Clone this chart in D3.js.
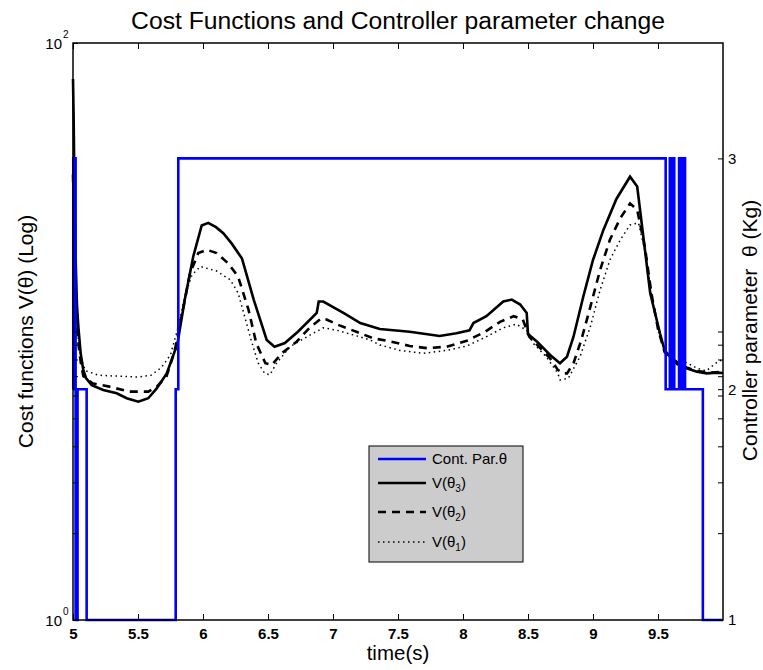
<!DOCTYPE html>
<html><head><meta charset="utf-8">
<script src="https://cdn.jsdelivr.net/npm/d3@7"></script>
<style>body{margin:0;background:#fff}svg{display:block}text{font-family:"Liberation Sans",Arial,Helvetica,sans-serif}</style>
</head><body><svg id="c" width="763" height="670"></svg>
<script>
// ---- data ----
const timeV3 = [5.0,5.005,5.01,5.02,5.03,5.041,5.059,5.079,5.1,5.144,5.233,5.336,5.413,5.502,5.579,5.644,5.721,5.785,5.80,5.86,5.925,5.99,6.04,6.1,6.156,6.22,6.30,6.39,6.49,6.55,6.63,6.73,6.875,6.89,6.925,7.08,7.21,7.36,7.59,7.82,7.95,8.05,8.08,8.18,8.31,8.375,8.44,8.49,8.50,8.57,8.67,8.746,8.80,8.85,8.925,9.00,9.08,9.18,9.285,9.34,9.39,9.44,9.515,9.55,9.6,9.65,9.72,9.8,9.875,9.95,10.0];
const valV3 = [75,55,35,18,12.5,10.4,8.4,7.36,6.9,6.52,6.27,6.11,5.87,5.71,5.87,6.35,7.16,8.6,8.9,12.9,18.2,23.3,23.8,23.0,21.9,20.2,17.9,12.9,9.35,8.86,9.12,9.98,11.6,12.7,12.7,11.6,10.7,10.2,9.98,9.65,9.86,10.1,10.7,11.3,12.7,12.9,12.4,11.6,9.8,9.22,8.29,7.76,8.18,9.59,13.2,17.7,22.5,28.8,34.4,31.8,20.8,13.6,9.86,8.63,8.1,7.8,7.46,7.25,7.16,7.2,7.18];
const timeV2 = [5.0,5.01,5.02,5.03,5.045,5.06,5.08,5.15,5.28,5.43,5.58,5.645,5.72,5.78,5.80,5.90,5.964,6.03,6.105,6.195,6.27,6.35,6.41,6.48,6.53,6.605,6.72,6.82,6.91,6.95,7.05,7.18,7.31,7.45,7.59,7.73,7.875,8.03,8.17,8.285,8.39,8.46,8.51,8.57,8.67,8.73,8.77,8.80,8.85,8.91,8.98,9.054,9.13,9.21,9.285,9.34,9.40,9.45,9.50,9.55,9.6,9.65,9.72,9.8,9.9,10.0];
const valV2 = [35,22,14,10.5,8.8,7.8,7.0,6.61,6.44,6.19,6.19,6.44,7.0,8.5,9.35,15.9,18.7,19.2,18.7,17.2,15.5,11.9,9.1,7.76,7.65,8.40,9.22,10.3,11.1,11.0,10.5,9.98,9.47,9.22,8.91,8.75,8.86,9.29,9.98,10.8,11.3,11.0,9.59,8.98,8.07,7.36,7.16,7.16,7.76,9.35,12.2,16.3,20.8,24.7,27.8,26.4,19.5,13.5,10.2,8.5,8.0,7.7,7.5,7.3,7.2,7.25];
const timeV1 = [5.0,5.01,5.02,5.03,5.045,5.06,5.08,5.1,5.2,5.35,5.5,5.6,5.68,5.75,5.81,5.86,5.915,5.98,6.105,6.21,6.27,6.32,6.37,6.425,6.475,6.515,6.565,6.67,6.80,6.925,7.03,7.16,7.285,7.36,7.515,7.695,7.875,8.03,8.18,8.31,8.41,8.49,8.54,8.64,8.73,8.746,8.81,8.90,8.98,9.054,9.13,9.21,9.285,9.35,9.40,9.45,9.50,9.55,9.6,9.65,9.72,9.8,9.87,9.95,10.0];
const valV1 = [28,20,14,10.5,9.0,8.2,7.6,7.3,7.05,7.0,6.95,7.05,7.5,8.3,10.4,13.2,15.7,16.8,16.2,15.1,13.6,11.3,9.35,7.76,7.16,7.08,7.76,8.86,9.59,10.3,10.1,9.72,9.35,8.98,8.6,8.4,8.6,8.91,9.59,10.3,10.6,10.1,9.1,8.18,7.16,6.79,6.88,8.18,10.4,13.9,17.7,20.8,23.4,23.8,19.0,13.5,10.2,8.6,8.0,7.9,7.8,7.46,7.3,7.8,8.0];
const thetaTime = [5.0,5.002,5.02,5.035,5.105,5.79,5.81,9.559,9.591,9.609,9.611,9.625,9.662,9.680,9.683,9.693,9.696,9.708,9.845,10.0];
const thetaVal  = [2,3,1,2,1,2,3,2,3,2,3,2,3,2,3,2,3,2,1,1];
const xTicks = [5,5.5,6,6.5,7,7.5,8,8.5,9,9.5];
const xTickLabels = ["5","5.5","6","6.5","7","7.5","8","8.5","9","9.5"];
const logMajor = [1,100];
const logMajorExp = ["0","2"];
const logMinor = [2,3,4,5,6,7,8,9,10];
const rightTicks = [1,2,3];
const legendLabels = [["Cont. Par.θ",""],["V(θ","3"],["V(θ","2"],["V(θ","1"]];

// ---- layout ----
const svg = d3.select("#c");
const L=73,R=723,T=43,B=620;
const x = d3.scaleLinear().domain([5,10]).range([L,R]);
const yL = d3.scaleLog().domain([1,100]).range([B,T]);
const yR = d3.scaleLinear().domain([1,3.5]).range([B,T]);

// title
svg.append("text").attr("x",(L+R)/2).attr("y",29).attr("text-anchor","middle")
  .attr("font-size",24.7).text("Cost Functions and Controller parameter change");

// curves
const mk = (ts,vs)=>ts.map((t,i)=>[t,vs[i]]);
const lineL = d3.line().x(d=>x(d[0])).y(d=>yL(d[1]));
const g = svg.append("g");
g.append("path").datum(mk(timeV1,valV1)).attr("d",lineL).attr("fill","none")
  .attr("stroke","#000").attr("stroke-width",1.5).attr("stroke-dasharray","1.5,3.5");
g.append("path").datum(mk(timeV2,valV2)).attr("d",lineL).attr("fill","none")
  .attr("stroke","#000").attr("stroke-width",2.6).attr("stroke-dasharray","8,6");
g.append("path").datum(mk(timeV3,valV3)).attr("d",lineL).attr("fill","none")
  .attr("stroke","#000").attr("stroke-width",2.6);
const lineR = d3.line().x(d=>x(d[0])).y(d=>yR(d[1])).curve(d3.curveStepAfter);
g.append("path").datum(mk(thetaTime,thetaVal)).attr("d",lineR).attr("fill","none")
  .attr("stroke","#0000ff").attr("stroke-width",2.6);

// frame
svg.append("rect").attr("x",L).attr("y",T).attr("width",R-L).attr("height",B-T)
  .attr("fill","none").attr("stroke","#000").attr("stroke-width",1.5);

// x axes
const xb = svg.append("g").attr("transform",`translate(0,${B})`)
  .call(d3.axisBottom(x).tickValues(xTicks).tickSize(-6).tickPadding(8)
  .tickFormat((d,i)=>xTickLabels[i]));
xb.selectAll("text").attr("font-size",15).attr("font-weight","bold").attr("fill","#000")
  .attr("font-family","'Liberation Sans',Arial,sans-serif");
svg.append("g").attr("transform",`translate(0,${T})`)
  .call(d3.axisTop(x).tickValues(xTicks).tickSize(-6).tickFormat(""));
// left log axis
svg.append("g").attr("transform",`translate(${L},0)`)
  .call(d3.axisLeft(yL).tickValues(logMinor.concat(logMajor)).tickSize(-5).tickFormat(""));
svg.append("g").attr("transform",`translate(${R},0)`)
  .call(d3.axisRight(yL).tickValues(logMinor).tickSize(-5).tickFormat(""));
logMajor.forEach((v,i)=>{
  svg.append("text").attr("x",L-11).attr("y",yL(v)+5.5).attr("text-anchor","end")
    .attr("font-size",15).text("10");
  svg.append("text").attr("x",L-10).attr("y",yL(v)-5).attr("font-size",10).text(logMajorExp[i]);
});
// right axis
const ra = svg.append("g").attr("transform",`translate(${R},0)`)
  .call(d3.axisRight(yR).tickValues(rightTicks).tickSize(-5).tickPadding(5).tickFormat(d3.format("d")));
ra.selectAll("text").attr("font-size",15).attr("fill","#000")
  .attr("font-family","'Liberation Sans',Arial,sans-serif");
svg.selectAll(".domain").remove();
svg.selectAll(".tick line").attr("stroke","#000").attr("stroke-width",1);

// axis labels
svg.append("text").attr("x",(L+R)/2).attr("y",660).attr("text-anchor","middle")
  .attr("font-size",20.5).text("time(s)");
svg.append("text").attr("transform",`translate(33,${(T+B)/2}) rotate(-90)`)
  .attr("text-anchor","middle").attr("font-size",21).text("Cost functions V(θ) (Log)");
svg.append("text").attr("transform",`translate(757,${(T+B)/2 - 1}) rotate(-90)`)
  .attr("text-anchor","middle").attr("font-size",21).style("white-space","pre")
  .text("Controller parameter  θ (Kg)");

// legend
const lg = svg.append("g");
lg.append("rect").attr("x",369).attr("y",446).attr("width",154).attr("height",116)
  .attr("fill","#cccccc").attr("stroke","#000").attr("stroke-width",1);
const ly = [459,483,512,542];
const lstyles = [
  {c:"#0000ff",w:2.6,d:null},{c:"#000",w:2.6,d:null},{c:"#000",w:2.6,d:"8,6"},{c:"#000",w:1.5,d:"1.5,3.5"}];
legendLabels.forEach((lab,i)=>{
  lg.append("line").attr("x1",378).attr("x2",426).attr("y1",ly[i]).attr("y2",ly[i])
    .attr("stroke",lstyles[i].c).attr("stroke-width",lstyles[i].w)
    .attr("stroke-dasharray",lstyles[i].d);
  const t = lg.append("text").attr("x",432).attr("y",ly[i]+5).attr("font-size",15);
  t.append("tspan").text(lab[0]);
  if(lab[1]){
    t.append("tspan").attr("font-size",10).attr("dy",4).text(lab[1]);
    t.append("tspan").attr("dy",-4).text(")");
  }
});
</script></body></html>
